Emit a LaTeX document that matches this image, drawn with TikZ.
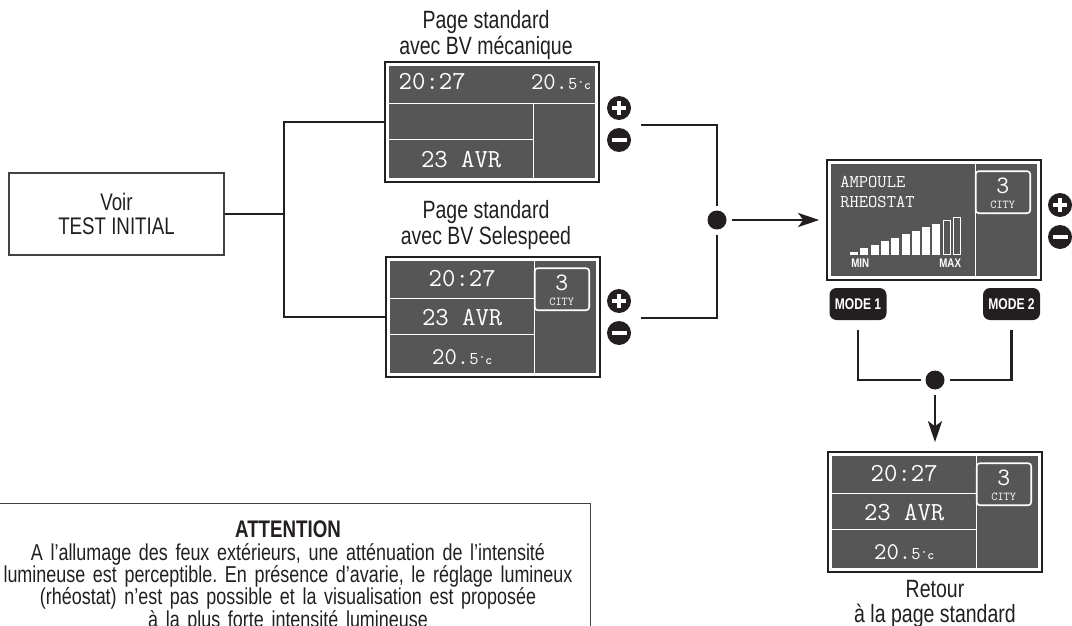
\documentclass[tikz,border=0pt]{standalone}
\usepackage{fontspec}
\setmainfont{Liberation Sans}[FakeStretch=0.78]
\usepackage{tikz}
\usetikzlibrary{arrows.meta, positioning, calc}
\definecolor{lcdgray}{HTML}{565656}
\definecolor{inkblack}{HTML}{231F20}
\frenchspacing

\newcommand{\lcdtemp}{{\fontsize{24}{24}\selectfont 20.}{\fontsize{18}{18}\selectfont 5}{\fontsize{13}{13}\selectfont\bfseries °c}}

\tikzset{
  wire/.style={draw=inkblack, line width=2.8pt},
  tip/.style={-{Stealth[length=21pt, width=14pt, inset=5pt]}},
  screen/.style={draw=inkblack, line width=1.6pt, fill=white, minimum width=214pt, minimum height=120pt, inner sep=0pt},
  lcdline/.style={draw=white, line width=1.3pt},
  citybox/.style={draw=white, line width=1.6pt, rounded corners=3pt, fill=lcdgray},
  lcdtext/.style={text=white, inner sep=0pt, font=\ttfamily\fontsize{26}{26}\selectfont},
  lcdtemp/.style={text=white, inner sep=0pt, font=\ttfamily},
  lcdgear/.style={text=white, inner sep=0pt, font=\ttfamily\fontsize{25}{25}\selectfont},
  lcdsmall/.style={text=white, inner sep=0pt, font=\ttfamily\fontsize{12}{12}\selectfont},
  lcdmid/.style={text=white, inner sep=0pt, anchor=west, font=\ttfamily\fontsize{18}{18}\selectfont},
  lcdscale/.style={text=white, inner sep=0pt, font=\bfseries\fontsize{12.5}{12.5}\selectfont},
  infobox/.style={draw=inkblack!85, line width=1.3pt, minimum width=215pt, minimum height=82pt, align=center, text=inkblack, font=\fontsize{24}{24.5}\selectfont},
  caption/.style={align=center, inner sep=0pt, text=inkblack, font=\fontsize{25}{25.5}\selectfont},
  plusbtn/.style={circle, fill=inkblack, minimum size=24pt, inner sep=0pt, path picture={
    \draw[white, line width=4pt] ([xshift=-7pt]path picture bounding box.center) -- ([xshift=7pt]path picture bounding box.center)
      ([yshift=-7pt]path picture bounding box.center) -- ([yshift=7pt]path picture bounding box.center);}},
  minusbtn/.style={circle, fill=inkblack, minimum size=24pt, inner sep=0pt, path picture={
    \draw[white, line width=4.8pt] ([xshift=-7.5pt]path picture bounding box.center) -- ([xshift=7.5pt]path picture bounding box.center);}},
  junction/.style={circle, fill=inkblack, minimum size=19pt, inner sep=0pt, outer sep=5pt},
  modebtn/.style={fill=inkblack, rounded corners=7pt, minimum width=57pt, minimum height=32pt, inner sep=0pt, text=white, font=\bfseries\fontsize{15.5}{15.5}\selectfont},
  attnbox/.style={draw=inkblack!85, line width=1.3pt, text width=598pt, align=center, inner ysep=17.5pt, text=inkblack, font=\fontsize{23}{22.3}\selectfont}
}

\begin{document}
\begin{tikzpicture}[x=1pt, y=-1pt]
\useasboundingbox (0,0) rectangle (1072,626);

% left box and split
\node[infobox] (voir) at (116.5,214) {Voir\\TEST INITIAL};
\coordinate (split) at (284,214);

% screens
\node[screen] (scrA) at (492,122) {};
\node[screen] (scrB) at (493,317) {};
\node[screen] (scrC) at (934,220) {};
\node[screen] (scrD) at (935,512) {};

\node[caption] (lblA) at (486,35) {Page standard\\avec BV mécanique};
\node[caption] (lblB) at (486,225) {Page standard\\avec BV Selespeed};
\node[caption] (lblD) at (935,604) {Retour\\à la page standard};

% standard page, manual gearbox
\begin{scope}[shift={(scrA.north west)}]
  \fill[lcdgray] (5,5) rectangle (210.6,116.6);
  \draw[lcdline] (5,42) -- (210.6,42) (149.5,42) -- (149.5,116.6) (5,78) -- (149.5,78);
  \node[lcdtext] (timeA) at (48,20) {20:27};
  \node[lcdtemp, anchor=east] (tempA) at (207,21) {\lcdtemp};
  \node[lcdtext] (dateA) at (77,98) {23 AVR};
\end{scope}

% standard pages with gear display
\foreach \s in {scrB,scrD}{
  \begin{scope}[shift={(\s.north west)}]
    \fill[lcdgray] (5,5) rectangle (210.6,116.6);
    \draw[lcdline] (5,42) -- (149.5,42) (5,78) -- (149.5,78) (149.5,5) -- (149.5,116.6);
    \draw[citybox] (149.5,12) rectangle (204,54);
    \node[lcdtext] (\s time) at (77,22) {20:27};
    \node[lcdtext] (\s date) at (77,61) {23 AVR};
    \node[lcdtemp] (\s temp) at (77,101) {\lcdtemp};
    \node[lcdgear] (\s gear) at (176.5,27) {3};
    \node[lcdsmall] (\s city) at (176.5,46) {CITY};
  \end{scope}
}

% rheostat page
\begin{scope}[shift={(scrC.north west)}]
  \fill[lcdgray] (5,5) rectangle (210.6,116.6);
  \draw[lcdline] (149.5,5) -- (149.5,116.6);
  \draw[citybox] (149.5,12) rectangle (204,54);
  \node[lcdgear] (gearC) at (176.5,27) {3};
  \node[lcdsmall] (cityC) at (176.5,46) {CITY};
  \node[lcdmid] (bulbC) at (14,23) {AMPOULE};
  \node[lcdmid] (rheoC) at (14,43) {RHEOSTAT};
  \foreach \k in {0,...,8}
    \fill[white] ({23.8+10.3*\k},95.8) rectangle ++(8,{-3.5*(\k+1)});
  \foreach \k in {9,10}
    \draw[white, line width=1pt] ({24.3+10.3*\k},95.3) rectangle ++(7,{-3.5*(\k+1)+1});
  \node[lcdscale] (minC) at (34,104) {MIN};
  \node[lcdscale] (maxC) at (124,104) {MAX};
\end{scope}

% buttons
\node[plusbtn] (plusA) at (619,108) {};
\node[minusbtn] (minusA) at (619,140) {};
\node[plusbtn] (plusB) at (619,301) {};
\node[minusbtn] (minusB) at (619,333) {};
\node[plusbtn] (plusC) at (1060,205) {};
\node[minusbtn] (minusC) at (1060,237) {};
\node[modebtn] (mode1) at (858,304) {MODE 1};
\node[modebtn] (mode2) at (1011.5,304) {MODE 2};

% connectors
\draw[wire] (voir.east) -- (split);
\draw[wire] (split) |- (scrA.west);
\draw[wire] (split) |- (scrB.west);

\node[junction] (dotA) at (717,220) {};
\coordinate (pmA) at (641,125);
\coordinate (pmB) at (641,318);
\draw[wire] (pmA) -| (dotA);
\draw[wire] (pmB) -| (dotA);
\draw[wire, tip, shorten >=7pt] (dotA) -- (scrC.west);

\node[junction] (dotB) at (935,380) {};
\draw[wire, shorten <=10pt] (mode1.south) |- (dotB);
\draw[wire, shorten <=10pt] (mode2.south) |- (dotB);
\draw[wire, tip, shorten >=9pt] (dotB) -- (scrD.north);

% warning
\node[attnbox, anchor=north] (attn) at (288,503) {{\bfseries\fontsize{24}{22}\selectfont ATTENTION}\\
A l’allumage des feux extérieurs, une atténuation de l’intensité\\
lumineuse est perceptible. En présence d’avarie, le réglage lumineux\\
(rhéostat) n’est pas possible et la visualisation est proposée\\
à la plus forte intensité lumineuse};
\end{tikzpicture}
\end{document}
